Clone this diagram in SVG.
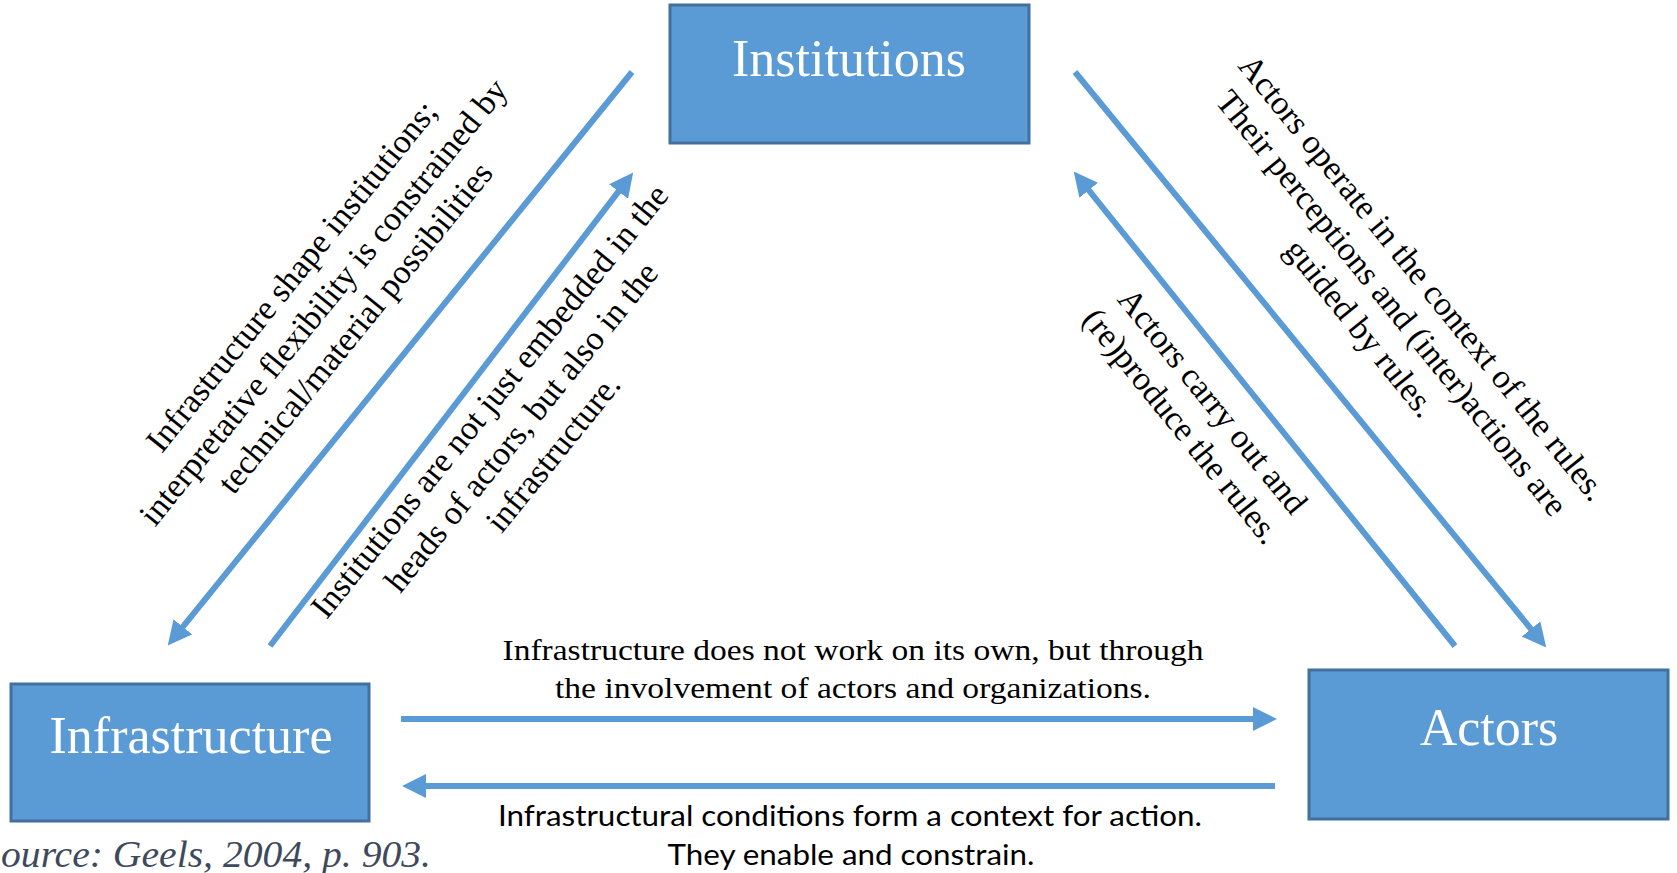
<svg xmlns="http://www.w3.org/2000/svg" width="1677" height="873" viewBox="0 0 1677 873">
<defs>
<style>
.node rect{fill:#5B9BD5;stroke:#41719C;stroke-width:3}
.node text{font-family:"Liberation Serif","Times New Roman",serif;font-size:52px;fill:#fff;text-anchor:middle}
.conn line{stroke:#5B9BD5;stroke-width:6;fill:none;marker-end:url(#ah)}
.diag{font-family:"Liberation Serif","Times New Roman",serif;font-size:34px;fill:#000;text-anchor:middle}
.top{font-family:"Liberation Serif","Times New Roman",serif;font-size:29px;fill:#000;text-anchor:middle}
.bot{font-family:Lato,"Liberation Sans",sans-serif;font-size:29px;fill:#000;text-anchor:middle}
.src{font-family:"Liberation Serif","Times New Roman",serif;font-style:italic;font-size:37px;fill:#3E4A5C}
</style>
<marker id="ah" markerUnits="userSpaceOnUse" markerWidth="24" markerHeight="24" refX="1" refY="11.5" orient="auto" viewBox="0 0 23 23"><path d="M0,0 L23,11.5 L0,23 Z" fill="#5B9BD5"/></marker>
</defs>
<rect width="1677" height="873" fill="#fff"/>
<g id="connectors" class="conn">
<line x1="632" y1="72" x2="182.2" y2="627.7"/>
<line x1="270" y1="646" x2="619.2" y2="190.7"/>
<line x1="1075" y1="72" x2="1531.7" y2="629.8"/>
<line x1="1455" y1="646" x2="1088.1" y2="189.4"/>
<line x1="401" y1="719" x2="1254" y2="719"/>
<line x1="1275" y1="786" x2="425" y2="786"/>
</g>
<g id="node-institutions" class="node">
<rect x="670" y="5" width="359" height="138"/>
<text x="849" y="76">Institutions</text>
</g>
<g id="node-infrastructure" class="node">
<rect x="11" y="684" width="358" height="137"/>
<text x="191" y="753">Infrastructure</text>
</g>
<g id="node-actors" class="node">
<rect x="1309" y="670" width="359" height="149"/>
<text x="1489" y="745">Actors</text>
</g>
<g id="labels">
<g class="diag" transform="translate(332,309) rotate(-51)">
<text x="0" y="-41">Infrastructure shape institutions;</text>
<text x="0" y="0">interpretative flexibility is constrained by</text>
<text x="0" y="41">technical/material possibilities</text>
</g>
<g class="diag" transform="translate(530,434) rotate(-51)">
<text x="0" y="-41">Institutions are not just embedded in the</text>
<text x="0" y="0">heads of actors, but also in the</text>
<text x="0" y="41">infrastructure.</text>
</g>
<g class="diag" transform="translate(1383,310) rotate(51)">
<text x="0" y="-40">Actors operate in the context of the rules.</text>
<text x="0" y="0">Their perceptions and (inter)actions are</text>
<text x="0" y="40">guided by rules.</text>
</g>
<g class="diag" transform="translate(1204,408) rotate(51)">
<text x="0" y="0">Actors carry out and</text>
<text x="0" y="40">(re)produce the rules.</text>
</g>
<text class="top" x="853" y="660" textLength="701" lengthAdjust="spacingAndGlyphs">Infrastructure does not work on its own, but through</text>
<text class="top" x="853" y="698" textLength="596" lengthAdjust="spacingAndGlyphs">the involvement of actors and organizations.</text>
<text class="bot" x="850" y="826" textLength="704" lengthAdjust="spacingAndGlyphs">Infrastructural conditions form a context for action.</text>
<text class="bot" x="851" y="865" textLength="367" lengthAdjust="spacingAndGlyphs">They enable and constrain.</text>
</g>
<text class="src" x="1" y="867" textLength="430" lengthAdjust="spacingAndGlyphs">ource: Geels, 2004, p. 903.</text>
</svg>
